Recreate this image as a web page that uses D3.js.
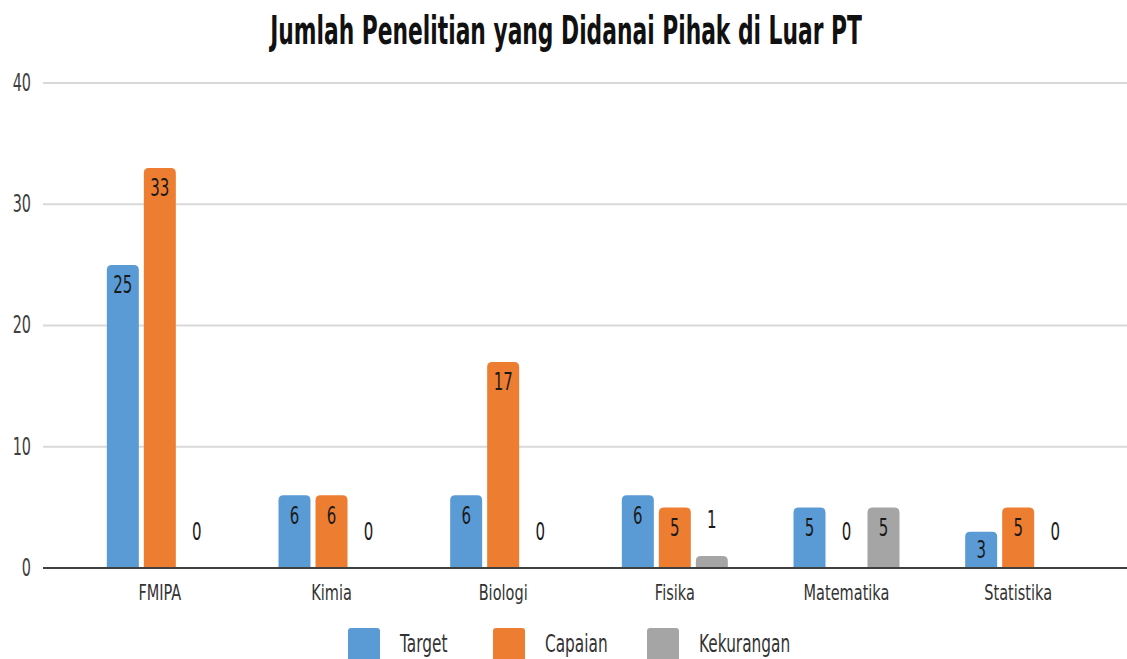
<!DOCTYPE html>
<html>
<head>
<meta charset="utf-8">
<script src="https://cdn.jsdelivr.net/npm/d3@7"></script>
<style>
  html, body { margin: 0; padding: 0; background: #fff; }
  svg { display: block; }
  text { font-family: "DejaVu Sans", sans-serif; }
</style>
</head>
<body>
<svg id="chart" width="1127" height="659"></svg>
<script>
const categories = ["FMIPA", "Kimia", "Biologi", "Fisika", "Matematika", "Statistika"];
const seriesNames = ["Target", "Capaian", "Kekurangan"];
const target = [25, 6, 6, 6, 5, 3];
const capaian = [33, 6, 17, 5, 0, 5];
const kekurangan = [0, 0, 0, 1, 5, 0];
const yTicks = [0, 10, 20, 30, 40];
const colors = ["#5B9BD5", "#ED7D31", "#A5A5A5"];

const seriesValues = [target, capaian, kekurangan];
const W = 1127, H = 659;
const svg = d3.select("#chart");

const x = d3.scaleBand().domain(categories).range([74, 1104]).paddingInner(0).paddingOuter(0);
const y = d3.scaleLinear().domain([0, 40]).range([568, 83]);
const barW = 32, barGap = 5;
const xs = d3.scaleBand().domain(seriesNames).range([0, 3 * barW + 2 * barGap]).paddingInner(barGap / (barW + barGap));

// tall, narrow glyphs: horizontal squeeze applied around the anchor point
function squeeze(sel, px, py, k) {
  sel.attr("transform", `translate(${px},${py}) scale(${k},1)`);
}

// title, squeezed to a fixed width
const title = svg.append("text")
  .text("Jumlah Penelitian yang Didanai Pihak di Luar PT")
  .attr("text-anchor", "middle")
  .attr("dominant-baseline", "central")
  .attr("font-size", 39).attr("font-weight", "bold").attr("fill", "#111");
squeeze(title, 566, 30, 592 / title.node().getComputedTextLength());

// gridlines
const grid = svg.append("g");
grid.selectAll("line").data(yTicks.filter(d => d > 0)).join("line")
  .attr("x1", 43).attr("x2", W)
  .attr("y1", d => y(d)).attr("y2", d => y(d))
  .attr("stroke", "#D9D9D9").attr("stroke-width", 2);

// y tick labels
svg.append("g").selectAll("text").data(yTicks).join("text")
  .text(d => d)
  .attr("text-anchor", "end").attr("dominant-baseline", "central")
  .attr("font-size", 24).attr("fill", "#404040")
  .each(function (d) { squeeze(d3.select(this), 31, y(d), 0.6); });

// bars
const groups = svg.append("g").selectAll("g").data(categories).join("g")
  .attr("transform", d => `translate(${x(d) + x.bandwidth() / 2 - xs.range()[1] / 2},0)`);

const r = 5;
function barPath(x0, w, v) {
  const yt = y(v), yb = y(0);
  const h = yb - yt;
  if (h <= 0) return "";
  const rr = Math.min(r, h, w / 2);
  return `M${x0},${yb}V${yt + rr}Q${x0},${yt} ${x0 + rr},${yt}H${x0 + w - rr}Q${x0 + w},${yt} ${x0 + w},${yt + rr}V${yb}Z`;
}

groups.each(function (cat, ci) {
  const g = d3.select(this);
  seriesNames.forEach((s, si) => {
    const v = seriesValues[si][ci];
    const bx = xs(s);
    g.append("path").attr("d", barPath(bx, xs.bandwidth(), v)).attr("fill", colors[si]);
    const h = y(0) - y(v);
    let ly;
    if (h >= 30) ly = y(v) + Math.min(20, h / 2);
    else ly = y(v) - 36;
    const t = g.append("text").text(v)
      .attr("text-anchor", "middle").attr("dominant-baseline", "central")
      .attr("font-size", 25).attr("fill", "#1a1a1a");
    squeeze(t, bx + xs.bandwidth() / 2, ly, 0.6);
  });
});

// baseline
svg.append("line").attr("x1", 43).attr("x2", W).attr("y1", y(0)).attr("y2", y(0))
  .attr("stroke", "#404040").attr("stroke-width", 2);

// category labels
svg.append("g").selectAll("text").data(categories).join("text")
  .text(d => d)
  .attr("text-anchor", "middle").attr("dominant-baseline", "central")
  .attr("font-size", 22).attr("fill", "#333")
  .each(function (d) { squeeze(d3.select(this), x(d) + x.bandwidth() / 2, 592, 0.66); });

// legend
const legendX = [348, 493, 647];
const legend = svg.append("g").selectAll("g").data(seriesNames).join("g")
  .attr("transform", (d, i) => `translate(${legendX[i]},628)`);
legend.append("rect").attr("width", 32).attr("height", 34).attr("rx", 3).attr("fill", (d, i) => colors[i]);
legend.append("text").text(d => d)
  .attr("text-anchor", "start").attr("dominant-baseline", "central")
  .attr("font-size", 24).attr("fill", "#333")
  .each(function () { squeeze(d3.select(this), 52, 16, 0.64); });
</script>
</body>
</html>
